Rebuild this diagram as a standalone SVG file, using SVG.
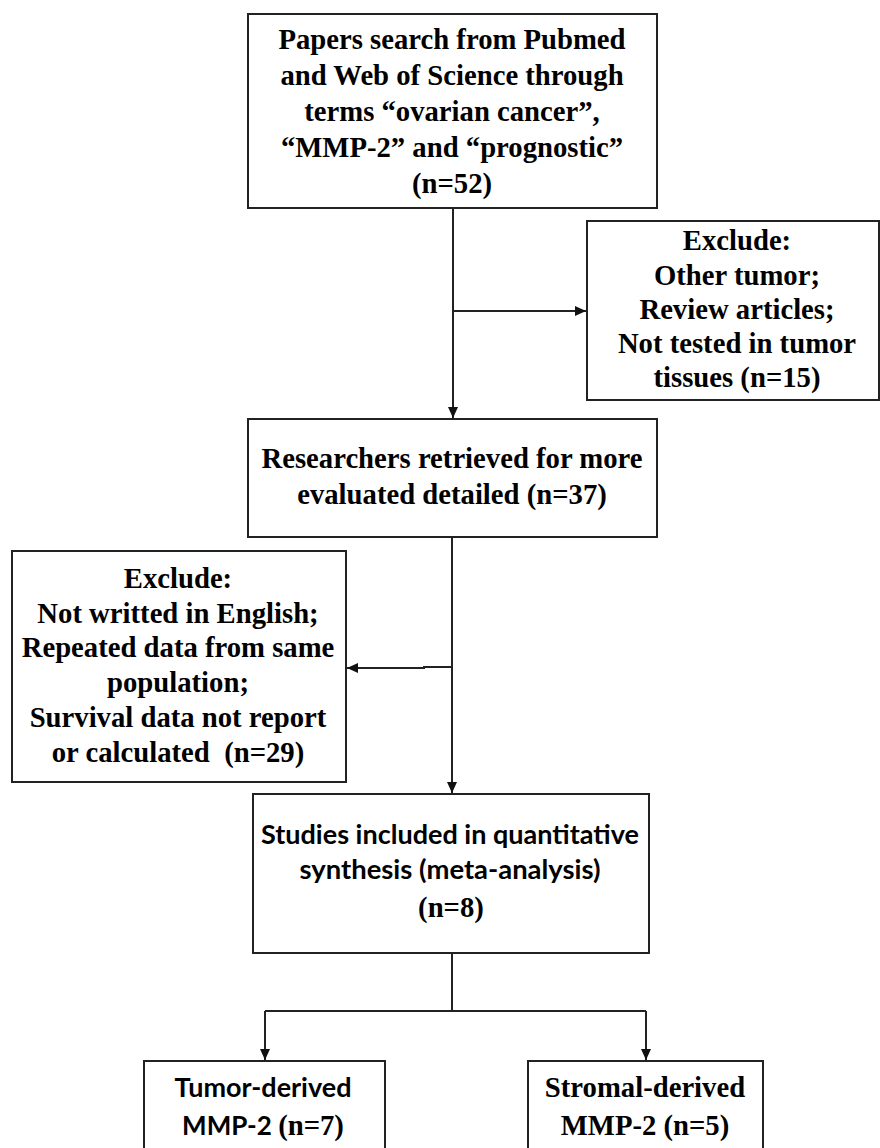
<svg xmlns="http://www.w3.org/2000/svg" width="880" height="1148" viewBox="0 0 880 1148">
<style>
.box{fill:#fff;stroke:#222;stroke-width:2}
.t{font-family:'Liberation Serif','Times New Roman',serif;font-weight:700;font-size:28.7px;fill:#000;text-anchor:middle}
.c{font-family:Lato,'Liberation Sans',sans-serif;font-weight:700;font-size:26px;fill:#000;text-anchor:middle}
.ln{fill:none;stroke:#222;stroke-width:2}
</style>
<defs>
<marker id="ah" markerUnits="userSpaceOnUse" markerWidth="12" markerHeight="10" refX="11" refY="5" orient="auto">
<path d="M0,0 L11,5 L0,10 z" fill="#111"/>
</marker>
</defs>
<rect width="880" height="1148" fill="#fff"/>
<g id="connectors">
<path class="ln" d="M453,208 V418" marker-end="url(#ah)"/>
<path class="ln" d="M453,311 H586" marker-end="url(#ah)"/>
<path class="ln" d="M452,537 V793" marker-end="url(#ah)"/>
<path class="ln" d="M452,667 H424 V668 H347" marker-end="url(#ah)"/>
<path class="ln" d="M452,953 V1011"/>
<path class="ln" d="M265,1011 H646"/>
<path class="ln" d="M265,1011 V1060" marker-end="url(#ah)"/>
<path class="ln" d="M646,1011 V1060" marker-end="url(#ah)"/>
</g>
<g id="search">
<rect class="box" x="248" y="14" width="409" height="194"/>
<text class="t" x="452" y="49">Papers search from Pubmed</text>
<text class="t" x="452" y="85">and Web of Science through</text>
<text class="t" x="452" y="121">terms “ovarian cancer”,</text>
<text class="t" x="452" y="157">“MMP-2” and “prognostic”</text>
<text class="t" x="452" y="193">(n=52)</text>
</g>
<g id="exclude1">
<rect class="box" x="587" y="221" width="292" height="179"/>
<text class="t" x="737" y="250">Exclude:</text>
<text class="t" x="737" y="285">Other tumor;</text>
<text class="t" x="737" y="319">Review articles;</text>
<text class="t" x="737" y="353">Not tested in tumor</text>
<text class="t" x="737" y="387">tissues (n=15)</text>
</g>
<g id="retrieved">
<rect class="box" x="248" y="419" width="409" height="118"/>
<text class="t" x="452" y="468">Researchers retrieved for more</text>
<text class="t" x="452" y="504">evaluated detailed (n=37)</text>
</g>
<g id="exclude2">
<rect class="box" x="12" y="551" width="334" height="231"/>
<text class="t" x="178" y="588">Exclude:</text>
<text class="t" x="178" y="623">Not writted in English;</text>
<text class="t" x="178" y="657">Repeated data from same</text>
<text class="t" x="178" y="692">population;</text>
<text class="t" x="178" y="727">Survival data not report</text>
<text class="t" x="178" y="762" xml:space="preserve">or calculated  (n=29)</text>
</g>
<g id="included">
<rect class="box" x="253" y="794" width="396" height="159"/>
<text class="c" x="450" y="844" textLength="378" lengthAdjust="spacingAndGlyphs">Studies included in quantitative</text>
<text class="c" x="450" y="879" textLength="301" lengthAdjust="spacingAndGlyphs">synthesis (meta-analysis)</text>
<text class="t" x="451" y="917">(n=8)</text>
</g>
<g id="tumor">
<rect class="box" x="144" y="1061" width="241" height="120"/>
<text class="c" x="263" y="1097" textLength="177" lengthAdjust="spacingAndGlyphs">Tumor-derived</text>
<text class="c" x="263" y="1135"><tspan>MMP-2 </tspan><tspan style="font-family:'Liberation Serif','Times New Roman',serif;font-size:28.7px">(n=7)</tspan></text>
</g>
<g id="stromal">
<rect class="box" x="528" y="1061" width="235" height="120"/>
<text class="t" x="645" y="1097">Stromal-derived</text>
<text class="t" x="645" y="1135">MMP-2 (n=5)</text>
</g>
</svg>
